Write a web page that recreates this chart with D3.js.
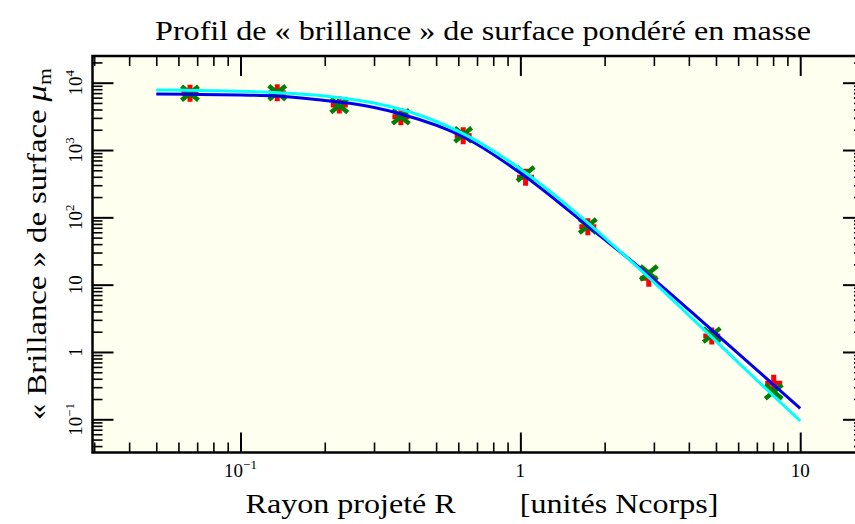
<!DOCTYPE html>
<html>
<head>
<meta charset="utf-8">
<script src="https://cdn.jsdelivr.net/npm/d3@7"></script>
<style>
  html, body { margin: 0; padding: 0; background: #ffffff; }
  svg { display: block; }
  text { font-family: "Liberation Serif", "Times New Roman", serif; fill: #000; }
</style>
</head>
<body>
<svg id="chart" width="855" height="524"></svg>
<script>
// Projected radius of each radial bin [N-body units]
const radius = [0.066, 0.1353, 0.2254, 0.3742, 0.6247, 1.044, 1.742, 2.877, 4.83, 8.04];
// Mass-weighted surface "brightness", two measurements per bin
const muPlus  = [6960, 7100, 4665, 3125, 1631, 395, 72.6, 12.4, 1.72, 0.342];
const muCross = [6960, 7100, 4600, 3125, 1690, 440, 74.3, 14.9, 1.78, 0.256];

// Model profiles sampled along R
const modelBlueR = [0.05, 0.066, 0.1, 0.135, 0.2, 0.246, 0.374, 0.625, 1.044, 1.742, 2.23, 2.877, 4.83, 10];
const modelBlue  = [6800, 6720, 6560, 6340, 5440, 4940, 3430, 1576, 401, 74.3, 32.7, 13.9, 2.12, 0.145];
const modelCyanR = [0.05, 0.08, 0.13, 0.2, 0.3, 0.45, 0.65, 1.0, 1.5, 2.2, 3.3, 5, 7, 10];
const modelCyan  = [7790, 7620, 7180, 6350, 4980, 3150, 1610, 524, 141, 35.3, 7.5, 1.45, 0.38, 0.095];

// Tick labels (mantissa "10" + exponent, or plain)
const xTickValues = [0.1, 1, 10];
const xTickLabels = [["10", "\u22121"], ["1", null], ["10", null]];
const yTickValues = [0.1, 1, 10, 100, 1000, 10000];
const yTickLabels = [["10", "\u22121"], ["1", null], ["10", null], ["10", "2"], ["10", "3"], ["10", "4"]];

const svg = d3.select("#chart");
const plotL = 92.5, plotR = 864, plotT = 56, plotB = 452.5;

const x = d3.scaleLog().domain([0.02959, 16.9]).range([plotL, plotR]);
const y = d3.scaleLog().domain([0.03212, 24925]).range([plotB, plotT]);

// plot background
svg.append("rect")
  .attr("x", plotL).attr("y", plotT)
  .attr("width", plotR - plotL).attr("height", plotB - plotT)
  .attr("fill", "#fffff0");

// minor / major tick positions
function minorTicks(domain) {
  const out = [];
  for (let e = -3; e <= 5; e++) {
    for (let m = 2; m <= 9; m++) {
      const v = m * Math.pow(10, e);
      if (v >= domain[0] && v <= domain[1]) out.push(v);
    }
  }
  return out;
}
function majorTicks(domain) {
  const out = [];
  for (let e = -3; e <= 5; e++) {
    const v = Math.pow(10, e);
    if (v >= domain[0] && v <= domain[1]) out.push(v);
  }
  return out;
}

function drawTicks(axisGen, tr, values, size, width) {
  const g = svg.append("g")
    .attr("transform", tr)
    .call(axisGen.tickValues(values).tickSize(size).tickFormat(() => ""));
  g.select(".domain").remove();
  g.selectAll(".tick line").attr("stroke", "#000").attr("stroke-width", width);
}

const xMin = minorTicks(x.domain()), xMaj = majorTicks(x.domain());
const yMin = minorTicks(y.domain()), yMaj = majorTicks(y.domain());

drawTicks(d3.axisBottom(x), `translate(0,${plotB})`, xMin, -10, 1.6);
drawTicks(d3.axisBottom(x), `translate(0,${plotB})`, xMaj, -20, 2);
drawTicks(d3.axisTop(x), `translate(0,${plotT})`, xMin, -10, 1.6);
drawTicks(d3.axisTop(x), `translate(0,${plotT})`, xMaj, -20, 2);
drawTicks(d3.axisLeft(y), `translate(${plotL},0)`, yMin, -10, 1.6);
drawTicks(d3.axisLeft(y), `translate(${plotL},0)`, yMaj, -21, 2);
drawTicks(d3.axisRight(y), `translate(${plotR},0)`, yMin, -10, 1.6);
drawTicks(d3.axisRight(y), `translate(${plotR},0)`, yMaj, -21, 2);

// markers: red plus, then green cross
const markers = svg.append("g");
markers.selectAll("path.plus")
  .data(radius.map((r, i) => [r, muPlus[i]]))
  .join("path")
  .attr("class", "plus")
  .attr("transform", d => `translate(${x(d[0])},${y(d[1])})`)
  .attr("d", "M-8.5,0H8.5M0,-8.5V8.5")
  .attr("stroke", "#ff0000").attr("stroke-width", 5).attr("fill", "none");
markers.selectAll("path.cross")
  .data(radius.map((r, i) => [r, muCross[i]]))
  .join("path")
  .attr("class", "cross")
  .attr("transform", d => `translate(${x(d[0])},${y(d[1])})`)
  .attr("d", "M-8.5,-7L8.5,7M-8.5,7L8.5,-7")
  .attr("stroke", "#008000").attr("stroke-width", 4.5).attr("fill", "none");

// model curves
const line = d3.line().x(d => x(d[0])).y(d => y(d[1])).curve(d3.curveMonotoneX);
svg.append("path")
  .datum(modelBlueR.map((r, i) => [r, modelBlue[i]]))
  .attr("d", line).attr("fill", "none")
  .attr("stroke", "#0000ee").attr("stroke-width", 3);
svg.append("path")
  .datum(modelCyanR.map((r, i) => [r, modelCyan[i]]))
  .attr("d", line).attr("fill", "none")
  .attr("stroke", "#00ffff").attr("stroke-width", 3);

// frame
svg.append("rect")
  .attr("x", plotL).attr("y", plotT)
  .attr("width", plotR - plotL).attr("height", plotB - plotT)
  .attr("fill", "none").attr("stroke", "#000").attr("stroke-width", 2.5);

// x tick labels
xTickValues.forEach((v, i) => {
  const [base, exp] = xTickLabels[i];
  const t = svg.append("text")
    .attr("x", x(v)).attr("y", 477)
    .attr("text-anchor", "middle")
    .attr("font-size", 19);
  t.append("tspan").text(base);
  if (exp) t.append("tspan").attr("dy", -8).attr("font-size", 13).text(exp);
});

// y tick labels, rotated
yTickValues.forEach((v, i) => {
  const [base, exp] = yTickLabels[i];
  const t = svg.append("text")
    .attr("transform", `translate(82,${y(v)}) rotate(-90)`)
    .attr("text-anchor", "middle")
    .attr("font-size", 19);
  t.append("tspan").text(base);
  if (exp) t.append("tspan").attr("dy", -8).attr("font-size", 13).text(exp);
});

// title
svg.append("text")
  .attr("x", 483).attr("y", 40)
  .attr("text-anchor", "middle")
  .attr("textLength", 656).attr("lengthAdjust", "spacingAndGlyphs")
  .attr("font-size", 27)
  .text("Profil de « brillance » de surface pondéré en masse");

// x axis title
svg.append("text")
  .attr("x", 482).attr("y", 513)
  .attr("text-anchor", "middle")
  .attr("textLength", 473).attr("lengthAdjust", "spacingAndGlyphs")
  .attr("font-size", 27)
  .style("white-space", "pre")
  .text("Rayon projeté R\u2003\u2003[unités Ncorps]");

// y axis title
const yl = svg.append("text")
  .attr("transform", `translate(46,244) rotate(-90)`)
  .attr("text-anchor", "middle")
  .attr("textLength", 352).attr("lengthAdjust", "spacingAndGlyphs")
  .attr("font-size", 27);
yl.append("tspan").text("« Brillance » de surface ");
yl.append("tspan").style("font-style", "italic").text("μ");
yl.append("tspan").attr("dy", 5).attr("font-size", 18).text("m");
</script>
</body>
</html>
